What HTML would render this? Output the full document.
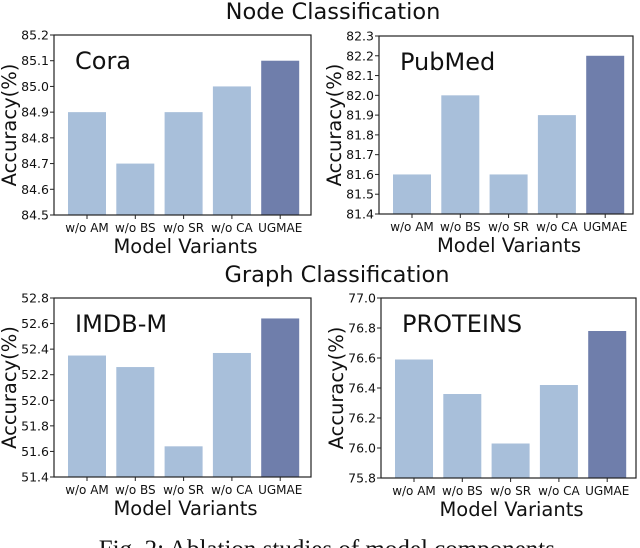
<!DOCTYPE html>
<html><head><meta charset="utf-8"><style>
body{margin:0;background:#fff;width:640px;height:548px;overflow:hidden}
svg{display:block}
text{font-family:"DejaVu Sans","Liberation Sans",sans-serif;fill:#111}
</style></head><body>
<svg id="fig" width="640" height="548" viewBox="0 0 640 548" xmlns="http://www.w3.org/2000/svg">
<text x="333" y="19" text-anchor="middle" font-size="22.5">Node Classification</text>
<text x="337" y="282" text-anchor="middle" font-size="22.5">Graph Classification</text>
<text x="330" y="557" text-anchor="middle" font-size="25" style="font-family:'Liberation Serif',serif">Fig. 2: Ablation studies of model components.</text>
</svg>
<script>
const categories = ["w/o AM","w/o BS","w/o SR","w/o CA","UGMAE"];
const coraValues = [84.9,84.7,84.9,85.0,85.1];
const pubmedValues = [81.6,82.0,81.6,81.9,82.2];
const imdbValues = [52.35,52.26,51.64,52.37,52.64];
const proteinsValues = [76.59,76.36,76.03,76.42,76.78];
const coraTicks = ["84.5","84.6","84.7","84.8","84.9","85.0","85.1","85.2"];
const pubmedTicks = ["81.4","81.5","81.6","81.7","81.8","81.9","82.0","82.1","82.2","82.3"];
const imdbTicks = ["51.4","51.6","51.8","52.0","52.2","52.4","52.6","52.8"];
const proteinsTicks = ["75.8","76.0","76.2","76.4","76.6","76.8","77.0"];

const NS="http://www.w3.org/2000/svg";
const svg=document.getElementById('fig');
function mk(tag,attrs,parent,txt){const e=document.createElementNS(NS,tag);for(const k in attrs)e.setAttribute(k,attrs[k]);if(txt!==undefined)e.textContent=txt;(parent||svg).appendChild(e);return e;}

function panel(name,label,values,ticks,L,R,T,B){
  const g=mk('g',{});
  
  
  const tv=ticks.map(Number);
  const ymin=tv[0],ymax=tv[tv.length-1];
  const y=v=>B-(v-ymin)/(ymax-ymin)*(B-T);
  const step=48.3,bw=38,x0=L+14;
  const x=i=>x0+i*step;
  values.forEach((v,i)=>{
    const r=mk('rect',{x:x(i),y:y(v),width:bw,height:B-y(v),fill:i===4?'#6f7eab':'#a8bfda'},g);
    
    
  });
  const f=mk('rect',{x:L,y:T,width:R-L,height:B-T,fill:'none',stroke:'#222','stroke-width':1.2},g);
  
  
  ticks.forEach((t,i)=>{
    const yy=y(tv[i]);
    mk('line',{x1:L-4,x2:L,y1:yy,y2:yy,stroke:'#222','stroke-width':1},g);
    const tl=mk('text',{x:L-5,y:yy+4.5,'text-anchor':'end','font-size':12.5},g,t);
    
    
  });
  categories.forEach((c,i)=>{
    const cx=x(i)+bw/2;
    mk('line',{x1:cx,x2:cx,y1:B,y2:B+4,stroke:'#222','stroke-width':1},g);
    const xl=mk('text',{x:cx,y:B+17,'text-anchor':'middle','font-size':12},g,c);
    
    
  });
  const xt=mk('text',{x:(L+R)/2+3,y:B+38,'text-anchor':'middle','font-size':19.5},g,'Model Variants');
  
  
  const cy=(T+B)/2;
  const yt=mk('text',{x:0,y:0,'text-anchor':'middle','font-size':19.5,transform:`translate(${L-38},${cy}) rotate(-90)`},g,'Accuracy(%)');
  
  
  const lb=mk('text',{x:L+21,y:T+34,'font-size':24},g,label);
  
  
}
panel('cora','Cora',coraValues,coraTicks,54,311,35,215);
panel('pubmed','PubMed',pubmedValues,pubmedTicks,379,633,36,214);
panel('imdb','IMDB-M',imdbValues,imdbTicks,54,311,298,477);
panel('proteins','PROTEINS',proteinsValues,proteinsTicks,381,636,298,478);
</script>
</body></html>
